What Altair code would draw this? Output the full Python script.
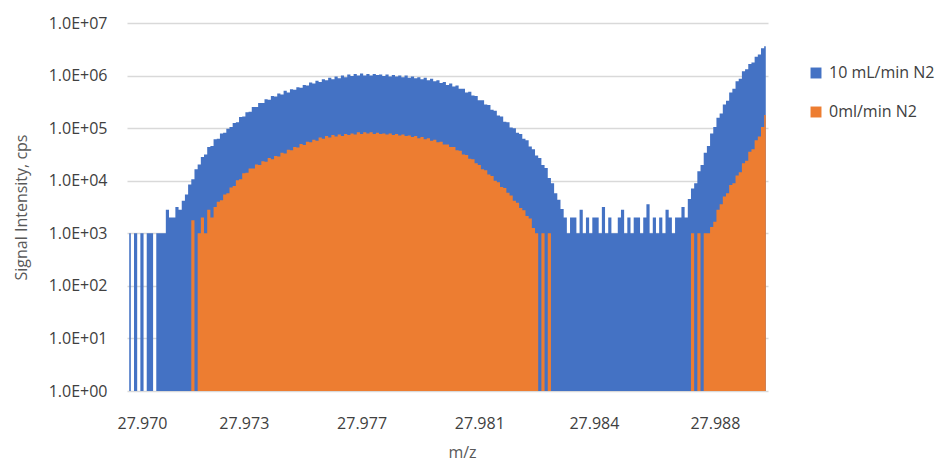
import altair as alt
import pandas as pd

# m/z sampling grid (start and spacing of the profile points)
mz_start = 27.9696
mz_step = 0.0001

# log10 of signal intensity (cps), one value per m/z point
blue_log10 = [
    3.0, 0, 3.0, 0, 3.0, 0, 3.0, 3.0, 0, 3.0, 3.0, 3.0,
    3.45, 3.3, 3.3, 3.5, 3.45, 3.62, 3.74, 3.93,
    4.03, 4.22, 4.31, 4.45, 4.5, 4.64, 4.66, 4.79, 4.8, 4.9,
    4.91, 4.99, 5.02, 5.1, 5.11, 5.21, 5.22, 5.3, 5.31, 5.4,
    5.4, 5.48, 5.48, 5.55, 5.54, 5.61, 5.6, 5.66, 5.64, 5.71,
    5.68, 5.74, 5.73, 5.78, 5.77, 5.82, 5.81, 5.87, 5.85, 5.9,
    5.88, 5.93, 5.91, 5.96, 5.93, 5.98, 5.95, 6.0, 5.97, 6.02,
    5.99, 6.03, 6.0, 6.04, 6.0, 6.03, 6.0, 6.03, 6.01, 6.02,
    5.99, 6.02, 5.98, 6.01, 5.98, 6.0, 5.97, 6.0, 5.96, 5.98,
    5.95, 5.97, 5.93, 5.96, 5.91, 5.94, 5.89, 5.91, 5.86, 5.88,
    5.82, 5.85, 5.79, 5.81, 5.75, 5.75, 5.68, 5.69, 5.62, 5.61,
    5.53, 5.53, 5.45, 5.44, 5.35, 5.33, 5.24, 5.22, 5.12, 5.11,
    5.01, 5.0, 4.91, 4.89, 4.8, 4.77, 4.65, 4.6, 4.48, 4.43,
    4.3, 4.24, 4.05, 3.95, 3.76, 3.64, 3.46,
    3.3, 3.0, 3.3, 3.3, 3.0, 3.45, 3.0, 3.3, 3.0, 3.3,
    3.3, 3.0, 3.5, 3.0, 3.3, 3.0, 3.0, 3.3, 3.45, 3.0,
    3.3, 3.0, 3.3, 3.3, 3.0, 3.3, 3.55, 3.0, 3.3, 3.0,
    3.3, 3.0, 3.45, 3.3, 3.0, 3.3, 3.3, 3.5, 3.3,
    3.65, 3.85, 3.95, 4.18, 4.3, 4.53, 4.66, 4.9, 5.02, 5.2,
    5.28, 5.45, 5.52, 5.68, 5.75, 5.89, 5.94, 6.08, 6.12, 6.22,
    6.25, 6.36, 6.4, 6.52, 6.56,
]

orange_log10 = [
    0, 0, 0, 0, 0, 0, 0, 0, 0, 0,
    0, 0, 0, 0, 0, 0, 0, 0, 0, 0,
    3.25, 0, 3.0, 3.3, 3.0, 3.45, 3.3, 3.5,
    3.6, 3.63, 3.74, 3.76, 3.87, 3.9, 4.01, 4.03, 4.14, 4.15, 4.23, 4.23,
    4.31, 4.3, 4.37, 4.36, 4.43, 4.41, 4.47, 4.46, 4.53, 4.52,
    4.59, 4.58, 4.64, 4.63, 4.7, 4.68, 4.74, 4.73, 4.78, 4.76,
    4.82, 4.8, 4.85, 4.82, 4.87, 4.84, 4.88, 4.85, 4.89, 4.87,
    4.9, 4.88, 4.92, 4.89, 4.92, 4.9, 4.92, 4.89, 4.91, 4.89,
    4.9, 4.88, 4.9, 4.87, 4.89, 4.86, 4.88, 4.85, 4.86, 4.83,
    4.85, 4.81, 4.83, 4.79, 4.81, 4.76, 4.78, 4.73, 4.74, 4.69,
    4.69, 4.64, 4.64, 4.58, 4.57, 4.5, 4.49, 4.42, 4.41, 4.33,
    4.3, 4.22, 4.2, 4.12, 4.09, 4.0, 3.97, 3.88, 3.86, 3.77,
    3.72, 3.62, 3.58, 3.48, 3.44, 3.33, 3.28, 3.1, 3.0, 0,
    3.0, 0, 3.0, 0, 0, 0, 0,
    0, 0, 0, 0, 0, 0, 0, 0, 0, 0,
    0, 0, 0, 0, 0, 0, 0, 0, 0, 0,
    0, 0, 0, 0, 0, 0, 0, 0, 0, 0,
    0, 0, 0, 0, 0, 0, 0, 0, 0,
    0, 3.0, 0, 3.0, 0, 3.0,
    3.0, 3.12, 3.22, 3.45, 3.55, 3.7, 3.76, 3.92, 3.95, 4.1,
    4.16, 4.33, 4.38, 4.55, 4.6, 4.77, 4.84, 5.02, 5.25,
]

series_names = ["10 mL/min N2", "0ml/min N2"]
series_colors = ["#4472C4", "#ED7D31"]

x_domain = [27.96953, 27.98967]
x_tick_values = [27.9700, 27.9732, 27.9769, 27.9806, 27.9842, 27.9880]
y_tick_values = [1, 10, 100, 1000, 1e4, 1e5, 1e6, 1e7]

FONT = "Open Sans"


def frame(logs, name):
    return pd.DataFrame({
        "mz": [round(mz_start + mz_step * i, 5) for i in range(len(logs))],
        "intensity": [10 ** v for v in logs],
        "base": [1.0] * len(logs),
        "series": [name] * len(logs),
    })


blue_df = frame(blue_log10, series_names[0])
orange_df = frame(orange_log10, series_names[1])

color = alt.Color(
    "series:N",
    scale=alt.Scale(domain=series_names, range=series_colors),
    legend=alt.Legend(
        title=None,
        orient="none",
        legendX=681,
        legendY=42,
        symbolType="square",
        symbolSize=120,
        symbolStrokeWidth=0,
        labelFontSize=16,
        labelFont=FONT,
        labelColor="#404040",
        labelOffset=5,
        rowPadding=23,
        padding=0,
    ),
)

x_enc = alt.X(
    "mz:Q",
    scale=alt.Scale(domain=x_domain, nice=False, zero=False),
    axis=alt.Axis(
        values=x_tick_values,
        format=".3f",
        grid=False,
        ticks=False,
        domain=False,
        labelPadding=24,
        labelFontSize=16,
        labelFont=FONT,
        labelColor="#404040",
        labelFlush=False,
        title="m/z",
        titleFontSize=16,
        titleFont=FONT,
        titleFontWeight="normal",
        titleColor="#595959",
        titleX=335,
        titleY=61,
        titleBaseline="middle",
    ),
)

y_enc = alt.Y(
    "intensity:Q",
    scale=alt.Scale(type="log", domain=[1, 1e7], nice=False),
    axis=alt.Axis(
        values=y_tick_values,
        labelExpr="'1.0E+0' + format(log(datum.value) / LN10, '.0f')",
        grid=True,
        gridColor="#d9d9d9",
        gridWidth=1.5,
        ticks=False,
        domain=False,
        labelPadding=20,
        labelFontSize=16,
        labelFont=FONT,
        labelColor="#404040",
        title="Signal Intensity, cps",
        titleFontSize=16,
        titleFont=FONT,
        titleFontWeight="normal",
        titleColor="#595959",
        titleX=-106,
        titleY=184,
        titleAngle=-90,
        titleAlign="center",
        titleBaseline="middle",
    ),
)


def area(df):
    return alt.Chart(df).mark_area(interpolate="step", clip=True).encode(
        x=x_enc,
        y=y_enc,
        y2=alt.Y2("base:Q"),
        color=color,
    )


chart = alt.layer(area(blue_df), area(orange_df)).properties(
    width=641,
    height=368,
    autosize=alt.AutoSizeParams(type="none"),
    padding={"left": 119, "top": 15, "right": 170, "bottom": 74},
    background="white",
).configure_view(stroke=None)

chart.save("out.html", embed_options={"renderer": "svg", "actions": False})
